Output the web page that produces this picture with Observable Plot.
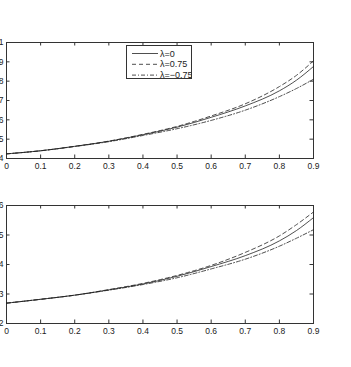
<!DOCTYPE html>
<html>
<head>
<meta charset="utf-8">
<script src="https://cdn.jsdelivr.net/npm/d3@7"></script>
<script src="https://cdn.jsdelivr.net/npm/@observablehq/plot@0.6"></script>
<style>
  html, body { margin: 0; padding: 0; background: #fff; }
  #wrap { position: relative; width: 351px; height: 367px; overflow: hidden; }
  svg { display: block; }
  #legend { position: absolute; left: 126px; top: 45px; width: 66px; height: 34px;
    border: 1px solid #333; background: #fff; box-sizing: border-box;
    font-family: "Liberation Sans", Arial, sans-serif; font-size: 9px; color: #222; }
</style>
</head>
<body>
<div id="wrap">
  <div id="top"></div>
  <div id="bot"></div>
  <div id="legend"></div>
</div>
<script>
// ---- data ----
const xs = [0, 0.1, 0.2, 0.3, 0.4, 0.5, 0.6, 0.7, 0.8, 0.85, 0.9];
const topSolid   = [0.424, 0.440, 0.463, 0.489, 0.523, 0.562, 0.613, 0.672, 0.750, 0.805, 0.876];
const topDashed  = [0.424, 0.440, 0.463, 0.490, 0.525, 0.566, 0.620, 0.683, 0.772, 0.830, 0.905];
const topDashDot = [0.424, 0.440, 0.462, 0.487, 0.519, 0.554, 0.597, 0.650, 0.720, 0.762, 0.810];
const botSolid   = [0.269, 0.282, 0.296, 0.314, 0.334, 0.360, 0.393, 0.430, 0.480, 0.515, 0.559];
const botDashed  = [0.269, 0.282, 0.296, 0.315, 0.336, 0.363, 0.397, 0.441, 0.497, 0.535, 0.578];
const botDashDot = [0.269, 0.282, 0.296, 0.313, 0.332, 0.355, 0.385, 0.418, 0.462, 0.489, 0.518];
const xTicks = [0, 0.1, 0.2, 0.3, 0.4, 0.5, 0.6, 0.7, 0.8, 0.9];
const topYTicks = [0.4, 0.5, 0.6, 0.7, 0.8, 0.9, 1];
const botYTicks = [0.2, 0.3, 0.4, 0.5, 0.6];
const seriesNames = ["λ=0", "λ=0.75", "λ=−0.75"];
const dashes = [null, "4,3", "4,2,1,2"];

const fmt = d => (d === 0 ? "0" : d === 1 ? "1" : d.toFixed(1));
const W = 351, ML = 6, MR = 38;

function panel(series, yDomain, yTicks, height, mt, mb) {
  const plotH = height - mt - mb, plotW = W - ML - MR;
  const ky = (yDomain[1] - yDomain[0]) * 3.5 / plotH;
  const kx = 0.9 * 3.5 / plotW;
  const marks = [
    Plot.frame({stroke: "#333", strokeWidth: 1}),
    Plot.ruleX(xTicks, {x: d => d, y1: yDomain[0], y2: yDomain[0] + ky, stroke: "#333"}),
    Plot.ruleX(xTicks, {x: d => d, y1: yDomain[1], y2: yDomain[1] - ky, stroke: "#333"}),
    Plot.ruleY(yTicks, {y: d => d, x1: 0, x2: kx, stroke: "#333"}),
    Plot.ruleY(yTicks, {y: d => d, x1: 0.9, x2: 0.9 - kx, stroke: "#333"}),
    Plot.axisX({ticks: xTicks, tickSize: 0, tickPadding: 4, tickFormat: fmt, label: null}),
    Plot.axisY({ticks: yTicks, tickSize: 0, tickPadding: 3, tickFormat: fmt, label: null})
  ];
  series.forEach((vals, i) => {
    const data = xs.map((x, j) => ({x, y: vals[j]}));
    marks.push(Plot.line(data, {x: "x", y: "y", stroke: "#222", strokeWidth: 0.8,
      strokeDasharray: dashes[i], curve: "monotone-x"}));
  });
  return Plot.plot({
    width: W, height, marginLeft: ML, marginRight: MR, marginTop: mt, marginBottom: mb,
    x: {domain: [0, 0.9]}, y: {domain: yDomain},
    style: {fontFamily: "Liberation Sans, Arial, sans-serif", fontSize: "8.5px", color: "#222", background: "#fff", overflow: "visible"},
    marks
  });
}

document.getElementById("top").append(panel([topSolid, topDashed, topDashDot], [0.4, 1], topYTicks, 180, 42, 22));
document.getElementById("bot").append(panel([botSolid, botDashed, botDashDot], [0.2, 0.6], botYTicks, 187, 25, 44));

// legend
const lg = d3.select("#legend").append("svg").attr("width", 64).attr("height", 32);
seriesNames.forEach((name, i) => {
  const y = 7.5 + i * 10.8;
  lg.append("line").attr("x1", 5).attr("x2", 31).attr("y1", y).attr("y2", y)
    .attr("stroke", "#222").attr("stroke-width", 0.8).attr("stroke-dasharray", dashes[i]);
  lg.append("text").attr("x", 33).attr("y", y + 3).text(name)
    .attr("font-family", "Liberation Sans, Arial, sans-serif").attr("font-size", "9px").attr("fill", "#222");
});
</script>
</body>
</html>
